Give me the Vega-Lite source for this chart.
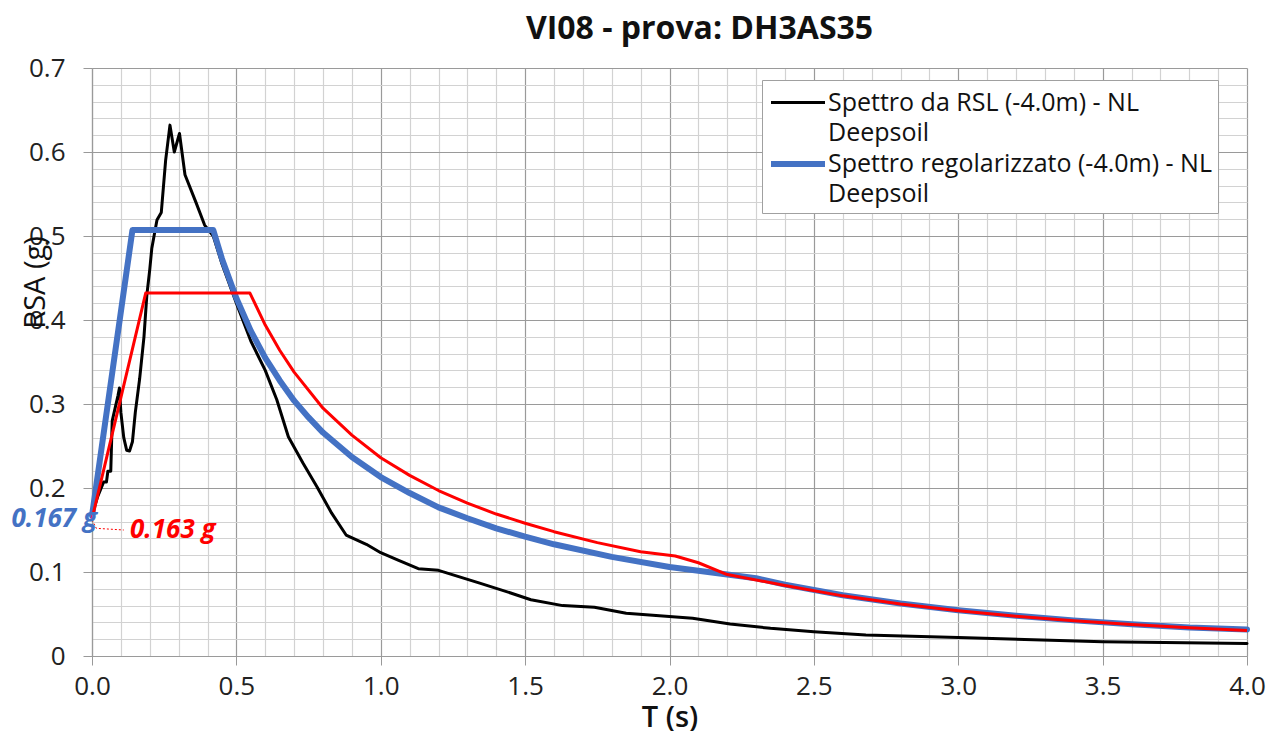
{
  "$schema": "https://vega.github.io/schema/vega-lite/v6.json",
  "width": 1155,
  "height": 588,
  "autosize": {"type": "none"},
  "padding": {"left": 92, "top": 68, "right": 20, "bottom": 75},
  "background": "white",
  "config": {"view": {"stroke": null}, "font": "Open Sans", "style": {"guide-label": {"lineHeight": 30}}},
  "title": {"text": "VI08 - prova: DH3AS35", "fontSize": 32, "fontWeight": "bold", "color": "#111111", "anchor": "middle", "dx": 30, "offset": 9, "font": "Open Sans"},
  "datasets": {
    "spectra": [
      {"T": 0.0, "RSA": 0.168, "series": "Spettro da RSL (-4.0m) - NL Deepsoil"},
      {"T": 0.02, "RSA": 0.19, "series": "Spettro da RSL (-4.0m) - NL Deepsoil"},
      {"T": 0.04, "RSA": 0.207, "series": "Spettro da RSL (-4.0m) - NL Deepsoil"},
      {"T": 0.05, "RSA": 0.207, "series": "Spettro da RSL (-4.0m) - NL Deepsoil"},
      {"T": 0.055, "RSA": 0.22, "series": "Spettro da RSL (-4.0m) - NL Deepsoil"},
      {"T": 0.065, "RSA": 0.22, "series": "Spettro da RSL (-4.0m) - NL Deepsoil"},
      {"T": 0.07, "RSA": 0.28, "series": "Spettro da RSL (-4.0m) - NL Deepsoil"},
      {"T": 0.08, "RSA": 0.295, "series": "Spettro da RSL (-4.0m) - NL Deepsoil"},
      {"T": 0.09, "RSA": 0.31, "series": "Spettro da RSL (-4.0m) - NL Deepsoil"},
      {"T": 0.095, "RSA": 0.319, "series": "Spettro da RSL (-4.0m) - NL Deepsoil"},
      {"T": 0.1, "RSA": 0.29, "series": "Spettro da RSL (-4.0m) - NL Deepsoil"},
      {"T": 0.11, "RSA": 0.26, "series": "Spettro da RSL (-4.0m) - NL Deepsoil"},
      {"T": 0.12, "RSA": 0.245, "series": "Spettro da RSL (-4.0m) - NL Deepsoil"},
      {"T": 0.13, "RSA": 0.244, "series": "Spettro da RSL (-4.0m) - NL Deepsoil"},
      {"T": 0.14, "RSA": 0.255, "series": "Spettro da RSL (-4.0m) - NL Deepsoil"},
      {"T": 0.15, "RSA": 0.29, "series": "Spettro da RSL (-4.0m) - NL Deepsoil"},
      {"T": 0.165, "RSA": 0.33, "series": "Spettro da RSL (-4.0m) - NL Deepsoil"},
      {"T": 0.18, "RSA": 0.38, "series": "Spettro da RSL (-4.0m) - NL Deepsoil"},
      {"T": 0.19, "RSA": 0.43, "series": "Spettro da RSL (-4.0m) - NL Deepsoil"},
      {"T": 0.2, "RSA": 0.46, "series": "Spettro da RSL (-4.0m) - NL Deepsoil"},
      {"T": 0.207, "RSA": 0.485, "series": "Spettro da RSL (-4.0m) - NL Deepsoil"},
      {"T": 0.225, "RSA": 0.519, "series": "Spettro da RSL (-4.0m) - NL Deepsoil"},
      {"T": 0.24, "RSA": 0.528, "series": "Spettro da RSL (-4.0m) - NL Deepsoil"},
      {"T": 0.255, "RSA": 0.59, "series": "Spettro da RSL (-4.0m) - NL Deepsoil"},
      {"T": 0.27, "RSA": 0.632, "series": "Spettro da RSL (-4.0m) - NL Deepsoil"},
      {"T": 0.285, "RSA": 0.6, "series": "Spettro da RSL (-4.0m) - NL Deepsoil"},
      {"T": 0.303, "RSA": 0.622, "series": "Spettro da RSL (-4.0m) - NL Deepsoil"},
      {"T": 0.322, "RSA": 0.573, "series": "Spettro da RSL (-4.0m) - NL Deepsoil"},
      {"T": 0.36, "RSA": 0.54, "series": "Spettro da RSL (-4.0m) - NL Deepsoil"},
      {"T": 0.39, "RSA": 0.513, "series": "Spettro da RSL (-4.0m) - NL Deepsoil"},
      {"T": 0.42, "RSA": 0.5, "series": "Spettro da RSL (-4.0m) - NL Deepsoil"},
      {"T": 0.45, "RSA": 0.467, "series": "Spettro da RSL (-4.0m) - NL Deepsoil"},
      {"T": 0.5, "RSA": 0.42, "series": "Spettro da RSL (-4.0m) - NL Deepsoil"},
      {"T": 0.55, "RSA": 0.375, "series": "Spettro da RSL (-4.0m) - NL Deepsoil"},
      {"T": 0.6, "RSA": 0.34, "series": "Spettro da RSL (-4.0m) - NL Deepsoil"},
      {"T": 0.64, "RSA": 0.305, "series": "Spettro da RSL (-4.0m) - NL Deepsoil"},
      {"T": 0.68, "RSA": 0.261, "series": "Spettro da RSL (-4.0m) - NL Deepsoil"},
      {"T": 0.73, "RSA": 0.23, "series": "Spettro da RSL (-4.0m) - NL Deepsoil"},
      {"T": 0.78, "RSA": 0.201, "series": "Spettro da RSL (-4.0m) - NL Deepsoil"},
      {"T": 0.83, "RSA": 0.17, "series": "Spettro da RSL (-4.0m) - NL Deepsoil"},
      {"T": 0.88, "RSA": 0.144, "series": "Spettro da RSL (-4.0m) - NL Deepsoil"},
      {"T": 0.95, "RSA": 0.133, "series": "Spettro da RSL (-4.0m) - NL Deepsoil"},
      {"T": 1.0, "RSA": 0.123, "series": "Spettro da RSL (-4.0m) - NL Deepsoil"},
      {"T": 1.06, "RSA": 0.114, "series": "Spettro da RSL (-4.0m) - NL Deepsoil"},
      {"T": 1.13, "RSA": 0.104, "series": "Spettro da RSL (-4.0m) - NL Deepsoil"},
      {"T": 1.2, "RSA": 0.102, "series": "Spettro da RSL (-4.0m) - NL Deepsoil"},
      {"T": 1.34, "RSA": 0.087, "series": "Spettro da RSL (-4.0m) - NL Deepsoil"},
      {"T": 1.45, "RSA": 0.075, "series": "Spettro da RSL (-4.0m) - NL Deepsoil"},
      {"T": 1.52, "RSA": 0.067, "series": "Spettro da RSL (-4.0m) - NL Deepsoil"},
      {"T": 1.63, "RSA": 0.06, "series": "Spettro da RSL (-4.0m) - NL Deepsoil"},
      {"T": 1.74, "RSA": 0.058, "series": "Spettro da RSL (-4.0m) - NL Deepsoil"},
      {"T": 1.85, "RSA": 0.051, "series": "Spettro da RSL (-4.0m) - NL Deepsoil"},
      {"T": 2.08, "RSA": 0.045, "series": "Spettro da RSL (-4.0m) - NL Deepsoil"},
      {"T": 2.21, "RSA": 0.038, "series": "Spettro da RSL (-4.0m) - NL Deepsoil"},
      {"T": 2.35, "RSA": 0.033, "series": "Spettro da RSL (-4.0m) - NL Deepsoil"},
      {"T": 2.5, "RSA": 0.029, "series": "Spettro da RSL (-4.0m) - NL Deepsoil"},
      {"T": 2.68, "RSA": 0.025, "series": "Spettro da RSL (-4.0m) - NL Deepsoil"},
      {"T": 3.0, "RSA": 0.022, "series": "Spettro da RSL (-4.0m) - NL Deepsoil"},
      {"T": 3.5, "RSA": 0.017, "series": "Spettro da RSL (-4.0m) - NL Deepsoil"},
      {"T": 4.0, "RSA": 0.015, "series": "Spettro da RSL (-4.0m) - NL Deepsoil"},
      {"T": 0.0, "RSA": 0.167, "series": "Spettro regolarizzato (-4.0m) - NL Deepsoil"},
      {"T": 0.14, "RSA": 0.507, "series": "Spettro regolarizzato (-4.0m) - NL Deepsoil"},
      {"T": 0.42, "RSA": 0.507, "series": "Spettro regolarizzato (-4.0m) - NL Deepsoil"},
      {"T": 0.45, "RSA": 0.473, "series": "Spettro regolarizzato (-4.0m) - NL Deepsoil"},
      {"T": 0.5, "RSA": 0.426, "series": "Spettro regolarizzato (-4.0m) - NL Deepsoil"},
      {"T": 0.55, "RSA": 0.387, "series": "Spettro regolarizzato (-4.0m) - NL Deepsoil"},
      {"T": 0.6, "RSA": 0.355, "series": "Spettro regolarizzato (-4.0m) - NL Deepsoil"},
      {"T": 0.65, "RSA": 0.328, "series": "Spettro regolarizzato (-4.0m) - NL Deepsoil"},
      {"T": 0.7, "RSA": 0.304, "series": "Spettro regolarizzato (-4.0m) - NL Deepsoil"},
      {"T": 0.75, "RSA": 0.284, "series": "Spettro regolarizzato (-4.0m) - NL Deepsoil"},
      {"T": 0.8, "RSA": 0.266, "series": "Spettro regolarizzato (-4.0m) - NL Deepsoil"},
      {"T": 0.9, "RSA": 0.237, "series": "Spettro regolarizzato (-4.0m) - NL Deepsoil"},
      {"T": 1.0, "RSA": 0.213, "series": "Spettro regolarizzato (-4.0m) - NL Deepsoil"},
      {"T": 1.1, "RSA": 0.194, "series": "Spettro regolarizzato (-4.0m) - NL Deepsoil"},
      {"T": 1.2, "RSA": 0.177, "series": "Spettro regolarizzato (-4.0m) - NL Deepsoil"},
      {"T": 1.3, "RSA": 0.164, "series": "Spettro regolarizzato (-4.0m) - NL Deepsoil"},
      {"T": 1.4, "RSA": 0.152, "series": "Spettro regolarizzato (-4.0m) - NL Deepsoil"},
      {"T": 1.5, "RSA": 0.142, "series": "Spettro regolarizzato (-4.0m) - NL Deepsoil"},
      {"T": 1.6, "RSA": 0.133, "series": "Spettro regolarizzato (-4.0m) - NL Deepsoil"},
      {"T": 1.8, "RSA": 0.118, "series": "Spettro regolarizzato (-4.0m) - NL Deepsoil"},
      {"T": 2.0, "RSA": 0.106, "series": "Spettro regolarizzato (-4.0m) - NL Deepsoil"},
      {"T": 2.2, "RSA": 0.097, "series": "Spettro regolarizzato (-4.0m) - NL Deepsoil"},
      {"T": 2.3, "RSA": 0.0926, "series": "Spettro regolarizzato (-4.0m) - NL Deepsoil"},
      {"T": 2.4, "RSA": 0.085, "series": "Spettro regolarizzato (-4.0m) - NL Deepsoil"},
      {"T": 2.6, "RSA": 0.0724, "series": "Spettro regolarizzato (-4.0m) - NL Deepsoil"},
      {"T": 2.8, "RSA": 0.0625, "series": "Spettro regolarizzato (-4.0m) - NL Deepsoil"},
      {"T": 3.0, "RSA": 0.0544, "series": "Spettro regolarizzato (-4.0m) - NL Deepsoil"},
      {"T": 3.2, "RSA": 0.0478, "series": "Spettro regolarizzato (-4.0m) - NL Deepsoil"},
      {"T": 3.4, "RSA": 0.0424, "series": "Spettro regolarizzato (-4.0m) - NL Deepsoil"},
      {"T": 3.6, "RSA": 0.0378, "series": "Spettro regolarizzato (-4.0m) - NL Deepsoil"},
      {"T": 3.8, "RSA": 0.0339, "series": "Spettro regolarizzato (-4.0m) - NL Deepsoil"},
      {"T": 4.0, "RSA": 0.0316, "series": "Spettro regolarizzato (-4.0m) - NL Deepsoil"}
    ],
    "ntc": [
      {"T": 0.0, "RSA": 0.163},
      {"T": 0.186, "RSA": 0.432},
      {"T": 0.547, "RSA": 0.432},
      {"T": 0.6, "RSA": 0.394},
      {"T": 0.65, "RSA": 0.364},
      {"T": 0.7, "RSA": 0.338},
      {"T": 0.8, "RSA": 0.295},
      {"T": 0.9, "RSA": 0.263},
      {"T": 1.0, "RSA": 0.236},
      {"T": 1.1, "RSA": 0.215},
      {"T": 1.2, "RSA": 0.197},
      {"T": 1.3, "RSA": 0.182},
      {"T": 1.4, "RSA": 0.169},
      {"T": 1.5, "RSA": 0.158},
      {"T": 1.6, "RSA": 0.148},
      {"T": 1.75, "RSA": 0.135},
      {"T": 1.9, "RSA": 0.124},
      {"T": 2.02, "RSA": 0.119},
      {"T": 2.1, "RSA": 0.111},
      {"T": 2.2, "RSA": 0.097},
      {"T": 2.4, "RSA": 0.084},
      {"T": 2.6, "RSA": 0.0716},
      {"T": 2.8, "RSA": 0.0618},
      {"T": 3.0, "RSA": 0.0538},
      {"T": 3.2, "RSA": 0.0473},
      {"T": 3.4, "RSA": 0.0419},
      {"T": 3.6, "RSA": 0.0374},
      {"T": 3.8, "RSA": 0.0335},
      {"T": 4.0, "RSA": 0.0303}
    ],
    "leader": [
      {"T": 0.0, "RSA": 0.162},
      {"T": 0.015, "RSA": 0.152},
      {"T": 0.11, "RSA": 0.15}
    ],
    "annot": [
      {"T": 0.0, "RSA": 0.167, "label": "0.167 g", "who": "reg"},
      {"T": 0.0, "RSA": 0.163, "label": "0.163 g", "who": "ntc"}
    ]
  },
  "layer": [
    {
      "data": {"name": "spectra"},
      "mark": {"type": "line", "strokeCap": "round", "strokeJoin": "round"},
      "encoding": {
        "x": {
          "field": "T", "type": "quantitative",
          "scale": {"domain": [0, 4], "nice": false, "zero": false},
          "axis": {
            "values": [0,0.1,0.2,0.3,0.4,0.5,0.6,0.7,0.8,0.9,1.0,1.1,1.2,1.3,1.4,1.5,1.6,1.7,1.8,1.9,2.0,2.1,2.2,2.3,2.4,2.5,2.6,2.7,2.8,2.9,3.0,3.1,3.2,3.3,3.4,3.5,3.6,3.7,3.8,3.9,4.0],
            "tickCount": 200,
            "labelExpr": "abs(datum.value*2 - round(datum.value*2)) < 0.001 ? format(datum.value, '.1f') : ''",
            "labelOverlap": false,
            "labelFlush": false,
            "labelFontSize": 26,
            "labelColor": "#222222",
            "labelPadding": 8,
            "tickSize": 9,
            "tickColor": "#999999",
            "tickOpacity": {"condition": {"test": "abs(datum.value*2 - round(datum.value*2)) < 0.001", "value": 1}, "value": 0},
            "grid": true,
            "gridColor": {"condition": {"test": "abs(datum.value*2 - round(datum.value*2)) < 0.001", "value": "#9a9a9a"}, "value": "#d2d2d2"},
            "gridWidth": 1.2,
            "domainColor": "#9a9a9a",
            "domainWidth": 1.2,
            "title": "T (s)",
            "titleFontSize": 29,
            "titleFontWeight": 600,
            "titleColor": "#111111",
            "titleBaseline": "middle",
            "titleY": 61
          }
        },
        "y": {
          "field": "RSA", "type": "quantitative",
          "scale": {"domain": [0, 0.7], "nice": false},
          "axis": {
            "values": [0,0.02,0.04,0.06,0.08,0.1,0.12,0.14,0.16,0.18,0.2,0.22,0.24,0.26,0.28,0.3,0.32,0.34,0.36,0.38,0.4,0.42,0.44,0.46,0.48,0.5,0.52,0.54,0.56,0.58,0.6,0.62,0.64,0.66,0.68,0.7],
            "tickCount": 200,
            "labelExpr": "abs(datum.value*10 - round(datum.value*10)) < 0.001 ? format(datum.value, '.1~f') : ''",
            "labelOverlap": false,
            "labelFlush": false,
            "labelFontSize": 26,
            "labelColor": "#222222",
            "labelPadding": 18,
            "tickSize": 9,
            "tickColor": "#999999",
            "tickOpacity": {"condition": {"test": "abs(datum.value*10 - round(datum.value*10)) < 0.001", "value": 1}, "value": 0},
            "grid": true,
            "gridColor": {"condition": {"test": "abs(datum.value*10 - round(datum.value*10)) < 0.001", "value": "#9a9a9a"}, "value": "#d2d2d2"},
            "gridWidth": 1.2,
            "domainColor": "#9a9a9a",
            "domainWidth": 1.2,
            "title": "RSA (g)",
            "titleFontSize": 29,
            "titleFontWeight": "normal",
            "titleColor": "#111111",
            "titleAngle": -90,
            "titleBaseline": "middle",
            "titleAlign": "center",
            "titleX": -57,
            "titleY": 214
          }
        },
        "color": {
          "field": "series", "type": "nominal",
          "scale": {"domain": ["Spettro da RSL (-4.0m) - NL Deepsoil", "Spettro regolarizzato (-4.0m) - NL Deepsoil"], "range": ["#000000", "#4472C4"]},
          "legend": {
            "title": null,
            "orient": "none",
            "legendX": 670,
            "legendY": 12,
            "direction": "vertical",
            "fillColor": "white",
            "strokeColor": "#a0a0a0",
            "padding": 6,
            "rowPadding": -1,
            "symbolType": "M-1.8,0H1.8",
            "symbolSize": 900,
            "symbolOffset": 12,
            "labelFontSize": 25,
            "labelColor": "#111111",
            "labelLimit": 600,
            "labelOffset": 12,
            "labelExpr": "[slice(datum.label, 0, lastindexof(datum.label, ' ')), slice(datum.label, lastindexof(datum.label, ' ') + 1)]"
          }
        },
        "strokeWidth": {
          "field": "series", "type": "nominal",
          "scale": {"domain": ["Spettro da RSL (-4.0m) - NL Deepsoil", "Spettro regolarizzato (-4.0m) - NL Deepsoil"], "range": [3, 6]},
          "legend": null
        }
      }
    },
    {
      "data": {"name": "ntc"},
      "mark": {"type": "line", "color": "#FF0000", "strokeWidth": 3, "strokeJoin": "round"},
      "encoding": {
        "x": {"field": "T", "type": "quantitative"},
        "y": {"field": "RSA", "type": "quantitative"}
      }
    },
    {
      "data": {"name": "leader"},
      "mark": {"type": "line", "color": "#FF0000", "strokeWidth": 1, "strokeDash": [2, 2]},
      "encoding": {
        "x": {"field": "T", "type": "quantitative"},
        "y": {"field": "RSA", "type": "quantitative"}
      }
    },
    {
      "data": {"name": "annot"},
      "transform": [{"filter": "datum.who == 'reg'"}],
      "mark": {"type": "text", "color": "#4472C4", "fontSize": 26, "fontWeight": "bold", "fontStyle": "italic", "align": "right", "baseline": "middle", "dx": 5, "dy": 3},
      "encoding": {
        "x": {"field": "T", "type": "quantitative"},
        "y": {"field": "RSA", "type": "quantitative"},
        "text": {"field": "label"}
      }
    },
    {
      "data": {"name": "annot"},
      "transform": [{"filter": "datum.who == 'ntc'"}],
      "mark": {"type": "text", "color": "#FF0000", "fontSize": 26, "fontWeight": "bold", "fontStyle": "italic", "align": "left", "baseline": "middle", "dx": 38, "dy": 11},
      "encoding": {
        "x": {"field": "T", "type": "quantitative"},
        "y": {"field": "RSA", "type": "quantitative"},
        "text": {"field": "label"}
      }
    }
  ]
}
